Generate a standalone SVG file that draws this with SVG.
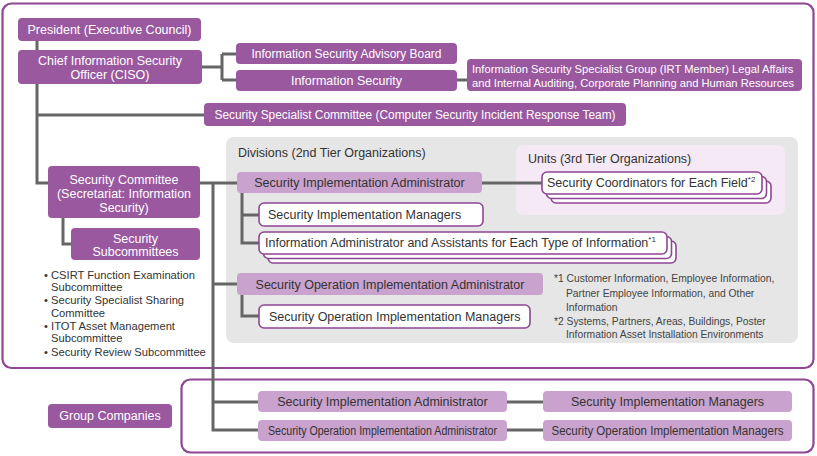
<svg xmlns="http://www.w3.org/2000/svg" width="817" height="456" viewBox="0 0 817 456">
<style>
text{font-family:"Liberation Sans",Arial,sans-serif;font-size:12.5px;fill:#333}
.dk{fill:#9a589f}
.lt{fill:#c9a2cd}
.wb{fill:#fff;stroke:#8e4695;stroke-width:1.6}
.w{fill:#fff}
.c{text-anchor:middle}
.fn{font-size:10.3px;fill:#444}
.ln{fill:none;stroke:#666;stroke-width:3}
.bl{font-size:11.2px}
.sg{font-size:11.2px}
</style>
<rect id="frame" x="2.5" y="3.5" width="811" height="364.5" rx="9" fill="#fff" stroke="#8e4695" stroke-width="2.2"/>
<rect id="divisions" x="226" y="137" width="572" height="206" rx="8" fill="#e6e6e6"/>
<text x="238" y="157">Divisions (2nd Tier Organizations)</text>
<rect id="units" x="516" y="145" width="269" height="70" rx="7" fill="#f4e9f4"/>
<text x="528" y="163">Units (3rd Tier Organizations)</text>
<rect id="groupframe" x="181.5" y="379.5" width="632" height="73" rx="9" fill="#fff" stroke="#8e4695" stroke-width="2.2"/>

<g id="connectors" class="ln">
<path d="M37 41V50M37 84V183H48"/>
<path d="M202 67H222M222 54V80M222 54H236M222 80H236M457 80H467"/>
<path d="M37 115H204"/>
<path d="M63 218V244H71"/>
<path d="M200 183H237M213 183V430H258M213 402H258M213 284H237"/>
<path d="M242 193V243H259M242 215H259"/>
<path d="M482 183H543"/>
<path d="M242 295V316H259"/>
<path d="M507 402H543M507 430H543"/>
</g>

<g id="president"><rect class="dk" x="18" y="18" width="183" height="23" rx="4"/><text class="c w" x="109.5" y="34">President (Executive Council)</text></g>
<g id="ciso"><rect class="dk" x="18" y="50" width="184" height="34" rx="4"/><text class="c w" x="110" y="65">Chief Information Security</text><text class="c w" x="110" y="79">Officer (CISO)</text></g>
<g id="advisory"><rect class="dk" x="236" y="43" width="221" height="21" rx="4"/><text class="c w" x="346.5" y="58" textLength="190" lengthAdjust="spacingAndGlyphs">Information Security Advisory Board</text></g>
<g id="infosec"><rect class="dk" x="236" y="70" width="221" height="21" rx="4"/><text class="c w" x="346.5" y="85">Information Security</text></g>
<g id="specialist-group"><rect class="dk" x="467" y="59" width="335" height="32" rx="4"/><text class="w sg" x="472" y="72.5">Information Security Specialist Group (IRT Member) Legal Affairs</text><text class="w sg" x="472" y="86.5">and Internal Auditing, Corporate Planning and Human Resources</text></g>
<g id="csirt"><rect class="dk" x="204" y="103" width="422" height="23" rx="4"/><text class="c w" x="415" y="119" textLength="401" lengthAdjust="spacingAndGlyphs">Security Specialist Committee (Computer Security Incident Response Team)</text></g>
<g id="sec-committee"><rect class="dk" x="48" y="166" width="152" height="52" rx="4"/><text class="c w" x="124" y="184">Security Committee</text><text class="c w" x="124" y="198">(Secretariat: Information</text><text class="c w" x="124" y="212">Security)</text></g>
<g id="subcommittees"><rect class="dk" x="71" y="228" width="129" height="32" rx="4"/><text class="c w" x="135.5" y="243">Security</text><text class="c w" x="135.5" y="256">Subcommittees</text></g>
<g id="sub-list">
<text class="bl" x="44" y="278.5">• CSIRT Function Examination</text>
<text class="bl" x="51" y="291">Subcommittee</text>
<text class="bl" x="44" y="304">• Security Specialist Sharing</text>
<text class="bl" x="51" y="316.5">Committee</text>
<text class="bl" x="44" y="329.5">• ITOT Asset Management</text>
<text class="bl" x="51" y="342">Subcommittee</text>
<text class="bl" x="44" y="355.5">• Security Review Subcommittee</text>
</g>

<g id="sia"><rect class="lt" x="237" y="172" width="245" height="21" rx="4"/><text class="c" x="359.5" y="187">Security Implementation Administrator</text></g>
<g id="coordinators"><rect class="wb" x="551" y="181" width="220" height="22" rx="5"/><rect class="wb" x="546.5" y="176.5" width="220" height="22" rx="5"/><rect class="wb" x="542" y="172" width="220" height="22" rx="5"/><text x="547" y="187">Security Coordinators for Each Field<tspan dy="-5" style="font-size:8px">*2</tspan></text></g>
<g id="sim"><rect class="wb" x="259" y="203" width="224" height="23" rx="5"/><text x="268" y="219">Security Implementation Managers</text></g>
<g id="info-admin"><rect class="wb" x="268" y="241" width="408" height="22" rx="5"/><rect class="wb" x="263.5" y="236.5" width="408" height="22" rx="5"/><rect class="wb" x="259" y="232" width="408" height="22" rx="5"/><text x="265" y="247">Information Administrator and Assistants for Each Type of Information<tspan dy="-5" style="font-size:8px">*1</tspan></text></g>
<g id="soia"><rect class="lt" x="237" y="273" width="306" height="22" rx="4"/><text class="c" x="390" y="289">Security Operation Implementation Administrator</text></g>
<g id="soim"><rect class="wb" x="259" y="305" width="271" height="23" rx="5"/><text x="269" y="321">Security Operation Implementation Managers</text></g>
<g id="footnotes">
<text class="fn" x="554" y="282">*1 Customer Information, Employee Information,</text>
<text class="fn" x="566" y="297">Partner Employee Information, and Other</text>
<text class="fn" x="566" y="311">Information</text>
<text class="fn" x="554" y="325">*2 Systems, Partners, Areas, Buildings, Poster</text>
<text class="fn" x="566" y="338">Information Asset Installation Environments</text>
</g>

<g id="group-companies"><rect class="dk" x="48" y="404" width="124" height="24" rx="4"/><text class="c w" x="110" y="420">Group Companies</text></g>
<g id="g-sia"><rect class="lt" x="258" y="391" width="249" height="21" rx="4"/><text class="c" x="382.5" y="406">Security Implementation Administrator</text></g>
<g id="g-sim"><rect class="lt" x="543" y="391" width="249" height="21" rx="4"/><text class="c" x="667.5" y="406">Security Implementation Managers</text></g>
<g id="g-soia"><rect class="lt" x="258" y="420" width="249" height="21" rx="4"/><text class="c" x="382.5" y="435" textLength="229" lengthAdjust="spacingAndGlyphs">Security Operation Implementation Administrator</text></g>
<g id="g-soim"><rect class="lt" x="543" y="420" width="249" height="21" rx="4"/><text class="c" x="667.5" y="435" textLength="232" lengthAdjust="spacingAndGlyphs">Security Operation Implementation Managers</text></g>
</svg>
